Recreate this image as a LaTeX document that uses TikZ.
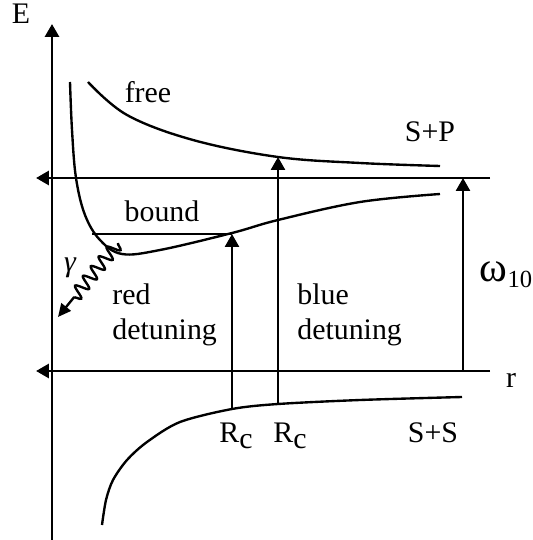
\documentclass[tikz,border=0pt]{standalone}
\usepackage{fontspec}
\setmainfont{Liberation Serif}
\usetikzlibrary{arrows.meta,decorations.pathmorphing}
\begin{document}
\begin{tikzpicture}[x=0.02cm, y=-0.02cm, every node/.style={font=\fontsize{17}{20}\selectfont, inner sep=0pt}, axis/.style={line width=1.7pt, -{Triangle[length=0.26cm, width=0.28cm]}}, curve/.style={line width=1.35pt}, trans/.style={line width=1.5pt, -{Triangle[length=0.26cm, width=0.28cm]}}]
	\useasboundingbox (0,0) rectangle (533,540);
	% axes and asymptotes
	\coordinate (o) at (52,540); \coordinate (etop) at (52,24);
	\coordinate (p1) at (490,178); \coordinate (p0) at (36,178);
	\coordinate (s1) at (490,371); \coordinate (s0) at (36,371);
	\draw[axis] (o) -- (etop);
	\draw[axis] (p1) -- (p0);
	\draw[axis] (s1) -- (s0);
	% potential curves
	\draw[curve] plot[smooth, tension=0.6] coordinates {(88,82) (127,115) (193,140) (278,157) (360,163) (440,166)};
	\draw[curve] plot[smooth, tension=0.6] coordinates {(70,82) (72,130) (76,178) (85,215) (100,240) (122,254) (160,250) (232,233) (278,220) (360,202) (440,194)};
	\draw[curve] plot[smooth, tension=0.5] coordinates {(102,525) (106,500) (113,480) (127,460) (147,442) (180,422) (232,409) (278,404) (360,400) (462,397)};
	\coordinate (b0) at (92,234); \coordinate (b1) at (232,234);
	\draw[curve] (b0) -- (b1);
	% transitions
	\coordinate (r0) at (232,409); \coordinate (u0) at (278,404); \coordinate (u1) at (278,157);
	\coordinate (w0) at (463,371); \coordinate (w1) at (463,178);
	\draw[trans] (r0) -- (b1);
	\draw[trans] (u0) -- (u1);
	\draw[trans] (w0) -- (w1);
	\coordinate (g0) at (118,243); \coordinate (g1) at (58,317);
	\draw[line width=1.35pt, -{Triangle[length=0.26cm, width=0.24cm]}, decorate, decoration={snake, amplitude=0.13cm, segment length=0.25cm, post length=0.45cm}] (g0) -- (g1);
	% labels
	\node (E) at (21,14) {E};
	\node (r) at (511,380) {r};
	\node (free) at (148,92) {free};
	\node (SP) at (430,132) {S+P};
	\node (bound) at (162,211) {bound};
	\node (gam) at (70,268) {\itshape γ};
	\node[align=left, anchor=north west] (red) at (112,283) {red\\detuning};
	\node[align=left, anchor=north west] (blue) at (297,283) {blue\\detuning};
	\node (w10) at (506,275) {{\fontsize{24}{24}\selectfont ω}\raisebox{-0.45ex}{\fontsize{14}{14}\selectfont 10}};
	\node (Rc1) at (236,436) {R\raisebox{-0.4ex}{c}};
	\node (Rc2) at (290,436) {R\raisebox{-0.4ex}{c}};
	\node (SS) at (433,433) {S+S};
\end{tikzpicture}
\end{document}
